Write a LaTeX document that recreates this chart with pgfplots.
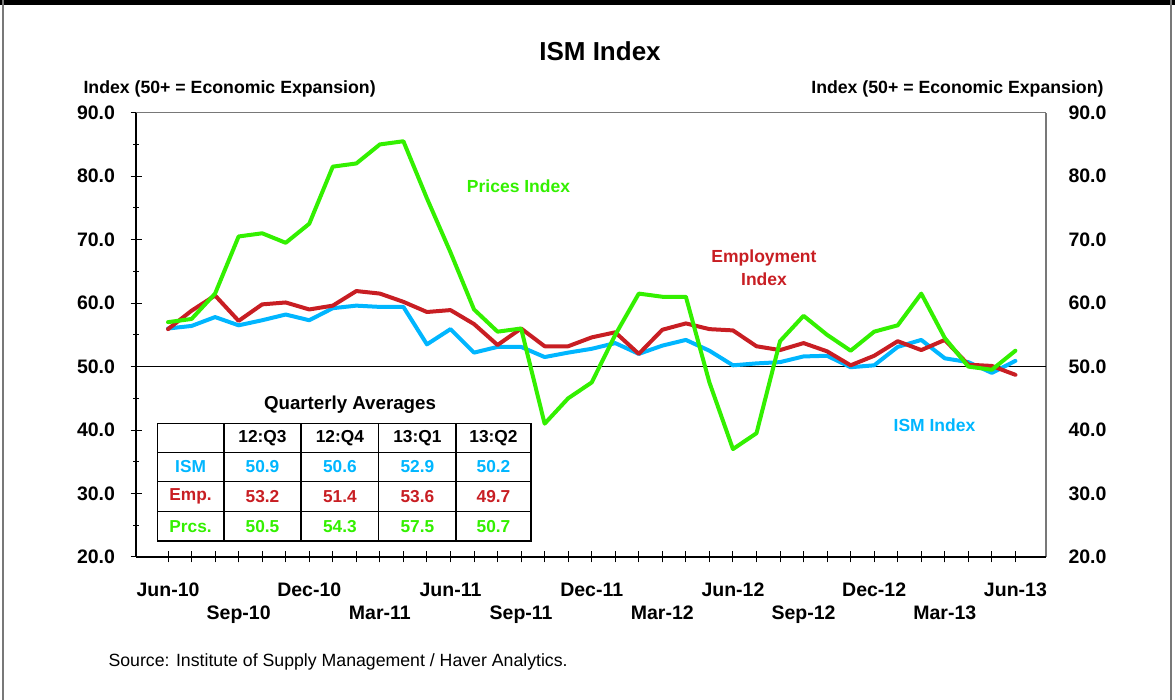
\documentclass[border=0pt]{standalone}
\usepackage{pgfplots}
\pgfplotsset{compat=1.18}
\usepackage{fontspec}
\setmainfont{Liberation Sans}
\definecolor{cgreen}{RGB}{51,240,0}
\definecolor{cred}{RGB}{200,30,35}
\definecolor{cblue}{RGB}{0,182,255}
\definecolor{fgray}{RGB}{120,120,120}
\newcommand{\fs}[1]{\fontsize{#1bp}{1.2\dimexpr #1bp\relax}\selectfont}
\pgfplotsset{
  base/.style={
    at={(136bp,143bp)}, anchor=south west,
    scale only axis, width=910bp, height=444.3bp,
    xmin=-1.36, xmax=37.3, ymin=20, ymax=90,
    /pgf/number format/assume math mode=true,
  }
}
\begin{document}
\begin{tikzpicture}[x=1bp,y=1bp]
\useasboundingbox (0,0) rectangle (1175,700);
\fill[black] (0,694.5) rectangle (1175,700);
\draw[fgray, line width=1.5bp] (3,0) -- (3,700);
\draw[fgray, line width=1.5bp] (1171,0) -- (1171,700);

% right axis (labels only)
\begin{axis}[base,
  hide x axis,
  axis y line*=right,
  y axis line style={fgray, line width=1.5bp, -},
  ytick={20,30,...,90},
  major tick length=0pt,
  yticklabel style={font=\fs{19.5}\bfseries, anchor=west, xshift=19bp,
     /pgf/number format/.cd, fixed, fixed zerofill, precision=1},
]
\addplot[draw=none] coordinates {(0,50)};
\end{axis}

\begin{axis}[base,
  axis x line*=bottom, axis y line*=left,
  axis line style={black, line width=1.3bp, -},
  ytick={20,30,...,90}, minor ytick={25,35,...,85},
  tick align=center,
  major tick length=11bp, minor tick length=6bp,
  tick style={black, line width=1bp},
  xtick={0,...,36},
  xticklabels={Jun-10,,,,,,Dec-10,,,,,,Jun-11,,,,,,Dec-11,,,,,,Jun-12,,,,,,Dec-12,,,,,,Jun-13},
  extra x ticks={3,9,...,33},
  extra x tick labels={Sep-10,Mar-11,Sep-11,Mar-12,Sep-12,Mar-13},
  extra x tick style={tick label style={yshift=-23bp}},
  x tick label style={font=\fs{19.5}\bfseries, anchor=north, yshift=-16bp,
     text height=14bp, text depth=4bp},
  yticklabel style={font=\fs{19.5}\bfseries, anchor=east, xshift=-12bp,
     /pgf/number format/.cd, fixed, fixed zerofill, precision=1},
  clip=false,
]
\draw[fgray, line width=1.5bp] (rel axis cs:0,1) -- (rel axis cs:1,1);
\addplot[black, line width=1.3bp] coordinates {(-1.36,50) (37.3,50)};
% ISM Index
\addplot[cblue, line width=4bp, line join=round, line cap=round] coordinates {
(0,56.0) (1,56.4) (2,57.8) (3,56.5) (4,57.3) (5,58.2) (6,57.3) (7,59.2) (8,59.6) (9,59.4)
(10,59.4) (11,53.5) (12,55.9) (13,52.2) (14,53.1) (15,53.1) (16,51.5) (17,52.2) (18,52.8) (19,53.7)
(20,52.0) (21,53.3) (22,54.2) (23,52.5) (24,50.2) (25,50.5) (26,50.7) (27,51.6) (28,51.7) (29,49.9)
(30,50.2) (31,53.1) (32,54.2) (33,51.3) (34,50.7) (35,49.0) (36,50.9)};
% Employment Index
\addplot[cred, line width=4bp, line join=round, line cap=round] coordinates {
(0,55.9) (1,58.8) (2,61.2) (3,57.2) (4,59.8) (5,60.1) (6,59.0) (7,59.6) (8,61.9) (9,61.5)
(10,60.2) (11,58.6) (12,58.9) (13,56.7) (14,53.4) (15,56.0) (16,53.2) (17,53.2) (18,54.6) (19,55.4)
(20,52.0) (21,55.8) (22,56.8) (23,55.9) (24,55.7) (25,53.2) (26,52.6) (27,53.7) (28,52.4) (29,50.2)
(30,51.7) (31,54.0) (32,52.6) (33,54.2) (34,50.3) (35,50.1) (36,48.7)};
% Prices Index
\addplot[cgreen, line width=4bp, line join=round, line cap=round] coordinates {
(0,57.0) (1,57.5) (2,61.5) (3,70.5) (4,71.0) (5,69.5) (6,72.5) (7,81.5) (8,82.0) (9,85.0)
(10,85.5) (11,76.5) (12,68.0) (13,59.0) (14,55.5) (15,56.0) (16,41.0) (17,45.0) (18,47.5) (19,55.0)
(20,61.5) (21,61.0) (22,61.0) (23,47.5) (24,37.0) (25,39.5) (26,54.0) (27,58.0) (28,55.0) (29,52.5)
(30,55.5) (31,56.5) (32,61.5) (33,54.5) (34,50.0) (35,49.5) (36,52.5)};
\end{axis}

% titles
\node[font=\fs{26}\bfseries] at (600,648.3) {ISM Index};
\node[font=\fs{17.7}\bfseries, anchor=west] at (80,611) {Index (50+ = Economic Expansion)};
\node[font=\fs{17.7}\bfseries, anchor=east] at (1107,611) {Index (50+ = Economic Expansion)};
% annotations
\node[font=\fs{17.5}\bfseries, text=cgreen] at (518.5,514) {Prices Index};
\node[font=\fs{17.5}\bfseries, text=cred, align=center] at (764,432.5) {Employment\\[2bp]Index};
\node[font=\fs{17.5}\bfseries, text=cblue] at (934.5,274.3) {ISM Index};
% quarterly table
\node[font=\fs{18.7}\bfseries] at (350,295) {Quarterly Averages};
\begin{scope}[line width=1.5bp]
\draw (157.3,276.7) rectangle (531,159);
\foreach \xx in {224,301,378.7,456} \draw (\xx,276.7) -- (\xx,159);
\foreach \yy in {247.7,218.3,188.3} \draw (157.3,\yy) -- (531,\yy);
\end{scope}
\begin{scope}[every node/.style={font=\fs{17.3}\bfseries}]
\node at (262.5,262.2) {12:Q3};
\node at (339.9,262.2) {12:Q4};
\node at (417.4,262.2) {13:Q1};
\node at (493.5,262.2) {13:Q2};
\node[text=cblue] at (190.6,233) {ISM};
\node[text=cblue] at (262.5,233) {50.9};
\node[text=cblue] at (339.9,233) {50.6};
\node[text=cblue] at (417.4,233) {52.9};
\node[text=cblue] at (493.5,233) {50.2};
\node[text=cred] at (190.6,203.3) {Emp.};
\node[text=cred] at (262.5,203.3) {53.2};
\node[text=cred] at (339.9,203.3) {51.4};
\node[text=cred] at (417.4,203.3) {53.6};
\node[text=cred] at (493.5,203.3) {49.7};
\node[text=cgreen] at (190.6,173.7) {Prcs.};
\node[text=cgreen] at (262.5,173.7) {50.5};
\node[text=cgreen] at (339.9,173.7) {54.3};
\node[text=cgreen] at (417.4,173.7) {57.5};
\node[text=cgreen] at (493.5,173.7) {50.7};
\end{scope}
\node[font=\fs{17.7}, anchor=west] at (105,38) {Source: Institute of Supply Management / Haver Analytics.};
\end{tikzpicture}
\end{document}
